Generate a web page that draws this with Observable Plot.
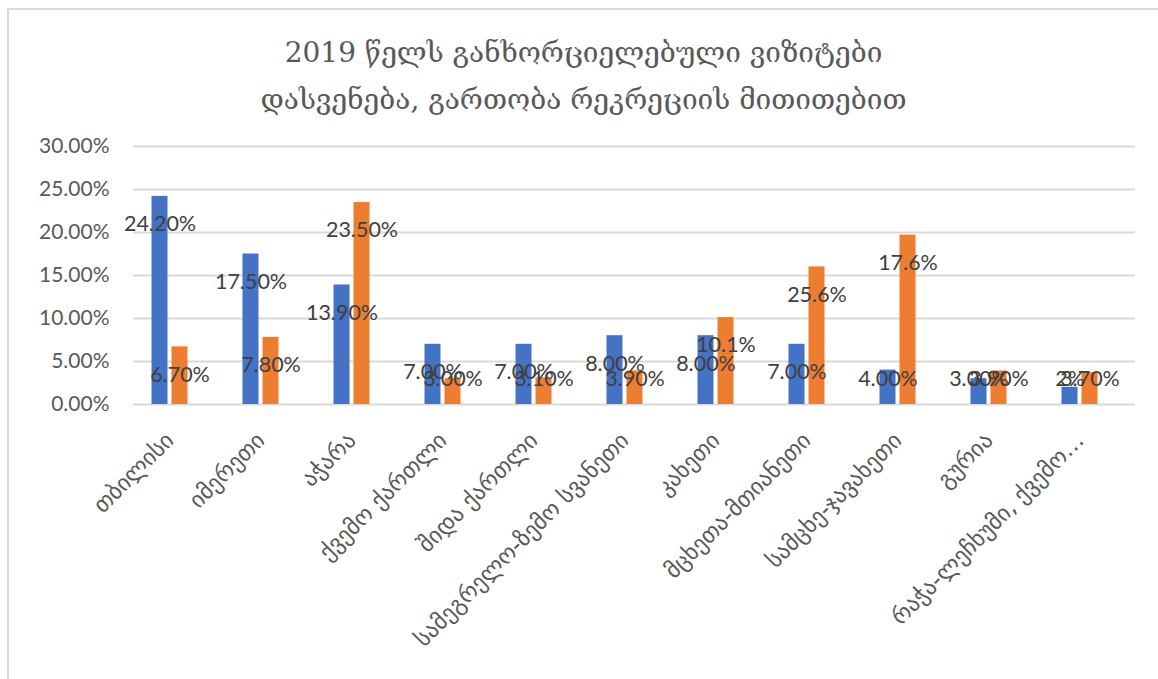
<!DOCTYPE html>
<html>
<head>
<meta charset="utf-8">
<script src="https://cdn.jsdelivr.net/npm/d3@7"></script>
<script src="https://cdn.jsdelivr.net/npm/@observablehq/plot@0.6"></script>
<style>
  html, body { margin: 0; padding: 0; background: #fff; }
  body { width: 1158px; height: 679px; overflow: hidden; position: relative; }
  #frame { position: absolute; left: 7px; top: 8px; width: 1200px; height: 720px;
           border-left: 2px solid #d9d9d9; border-top: 2px solid #d9d9d9; z-index: 2; pointer-events: none; }
  #title { position: absolute; left: 9px; width: 1149px; top: 29px; text-align: center; color: #595959;
           font-family: "DejaVu Serif", "DejaVu Sans", serif; font-size: 28px; line-height: 47px; }
  #chart { position: absolute; left: 0; top: 125px; }
</style>
</head>
<body>
<div id="frame"></div>
<div id="title">
  <div>2019 წელს განხორციელებული ვიზიტები</div>
  <div>დასვენება, გართობა რეკრეციის მითითებით</div>
</div>
<div id="chart"></div>
<script>
const categories = [
  "თბილისი", "იმერეთი", "აჭარა", "ქვემო ქართლი", "შიდა ქართლი",
  "სამეგრელო-ზემო სვანეთი", "კახეთი", "მცხეთა-მთიანეთი", "სამცხე-ჯავახეთი",
  "გურია", "რაჭა-ლეჩხუმი, ქვემო…"
];
// bar heights (percent)
const seriesBlue   = [24.2, 17.5, 13.9, 7.0, 7.0, 8.0, 8.0, 7.0, 4.0, 3.0, 2.0];
const seriesOrange = [6.7, 7.8, 23.5, 3.0, 3.1, 3.9, 10.1, 16.0, 19.7, 3.9, 3.7];
// data labels as printed on the chart
const labelsBlue   = ["24.20%", "17.50%", "13.90%", "7.00%", "7.00%", "8.00%", "8.00%", "7.00%", "4.00%", "3.00%", "2%"];
const labelsOrange = ["6.70%", "7.80%", "23.50%", "3.00%", "3.10%", "3.90%", "10.1%", "25.6%", "17.6%", "3.90%", "3.70%"];
const yTicks = [0, 5, 10, 15, 20, 25, 30];

const blueRows = categories.map((c, i) => ({category: c, value: seriesBlue[i], label: labelsBlue[i]}));
const orangeRows = categories.map((c, i) => ({category: c, value: seriesOrange[i], label: labelsOrange[i]}));

const labelY = d => Math.max(d.value - 3.25, 3.0);
const inset = 37.5;
const labelStyle = {fill: "#404040", fontSize: 21.5, fontFamily: "Lato"};

const chart = Plot.plot({
  width: 1158,
  height: 554,
  marginTop: 21,
  marginBottom: 275,
  marginLeft: 133,
  marginRight: 23,
  style: {background: "transparent", fontFamily: "Lato"},
  x: {domain: categories, range: [123.5, 1124.5], padding: 0},
  y: {domain: [0, 30]},
  marks: [
    Plot.ruleY(yTicks, {stroke: "#d9d9d9", strokeWidth: 2}),
    Plot.barY(blueRows, {x: "category", y: "value", fill: "#4472C4", dx: -10, insetLeft: inset, insetRight: inset}),
    Plot.barY(orangeRows, {x: "category", y: "value", fill: "#ED7D31", dx: 10, insetLeft: inset, insetRight: inset}),
    Plot.text(blueRows, {x: "category", y: labelY, text: "label", dx: -10, ...labelStyle}),
    Plot.text(orangeRows, {x: "category", y: labelY, text: "label", dx: 10, ...labelStyle}),
    Plot.axisY({ticks: yTicks, tickSize: 0, tickPadding: 24, tickFormat: d => d.toFixed(2) + "%",
                fontSize: 21, fontFamily: "Lato", color: "#595959", label: null}),
    Plot.axisX({tickSize: 0, tickPadding: 32, tickRotate: -45, fontSize: 23,
                fontFamily: "DejaVu Sans", color: "#595959", label: null})
  ]
});
document.getElementById("chart").appendChild(chart);
</script>
</body>
</html>
